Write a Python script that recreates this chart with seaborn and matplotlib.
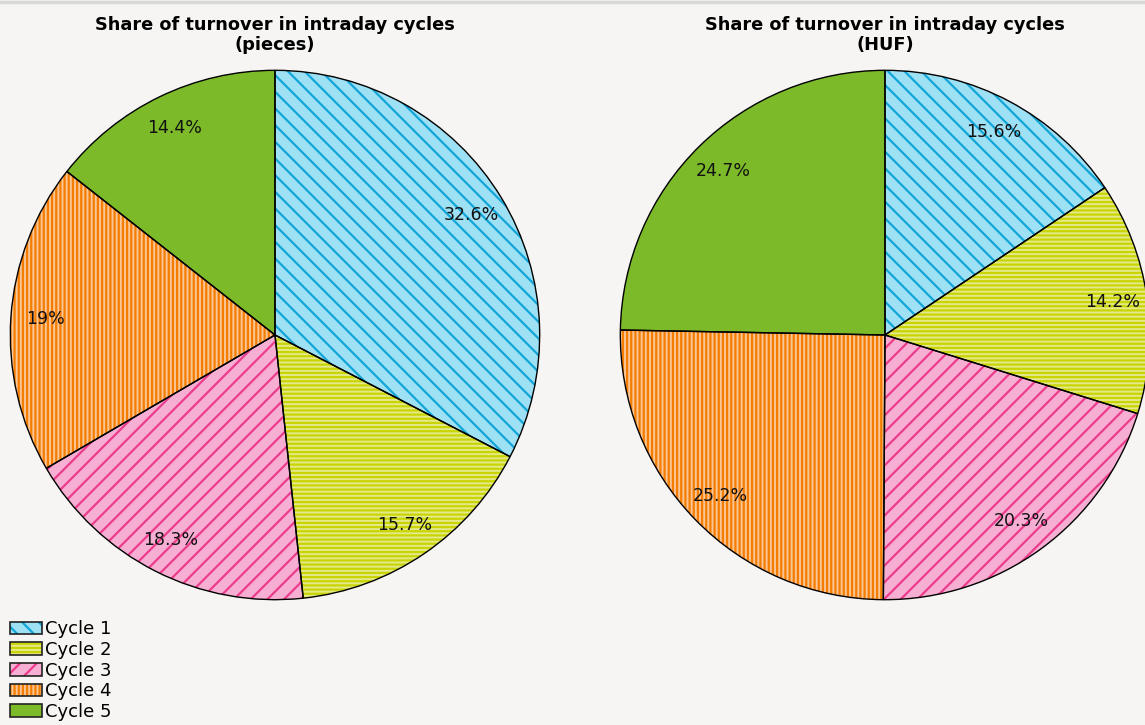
import matplotlib
matplotlib.use('Agg')
import matplotlib.pyplot as plt
from matplotlib.patches import Patch
from matplotlib.lines import Line2D
import seaborn as sns

cycles = ['Cycle 1', 'Cycle 2', 'Cycle 3', 'Cycle 4', 'Cycle 5']
share_pieces = [32.6, 15.7, 18.3, 19, 14.4]
share_huf = [15.6, 14.2, 20.3, 25.2, 24.7]
titles = ['Share of turnover in intraday cycles\n(pieces)',
          'Share of turnover in intraday cycles\n(HUF)']

face_cols = ['#9ee0f4', '#e4ea8c', '#f6aed3', '#fbc695', '#7cba2a']
hatch_cols = ['#12a5d8', '#c9d400', '#ec3c8c', '#f47d00', '#7cba2a']
hatches = ['\\\\', '----', '//', '||||', '']

bg = '#f6f5f3'
sns.set_theme(style='white', rc={'figure.facecolor': bg, 'axes.facecolor': bg,
                                 'hatch.linewidth': 1.6, 'text.color': 'black'})
plt.rcParams['font.family'] = ['DejaVu Sans']

W, H = 1145, 725
fig = plt.figure(figsize=(W / 100, H / 100), dpi=100)


def draw_pie(ax, values):
    # first pass: fill + hatch (hatch takes edge color), second pass: black outline
    wedges, _ = ax.pie(values, colors=face_cols, startangle=90, counterclock=False,
                       wedgeprops=dict(linewidth=0))
    for w, hc, h in zip(wedges, hatch_cols, hatches):
        w.set_edgecolor(hc)
        w.set_hatch(h)
    ax.pie(values, startangle=90, counterclock=False,
           labels=[f'{v:g}%' for v in values], labeldistance=0.87,
           textprops=dict(fontsize=12.5, color='#111111', ha='center', va='center'),
           wedgeprops=dict(fill=False, edgecolor='black', linewidth=1.0))
    ax.set_xlim(-1.005, 1.005)
    ax.set_ylim(-1.005, 1.005)
    ax.set_aspect('equal')
    ax.axis('off')


for cx, vals, title in [(275, share_pieces, titles[0]), (885, share_huf, titles[1])]:
    r = 266
    ax = fig.add_axes([(cx - r) / W, (H - 335 - r) / H, 2 * r / W, 2 * r / H])
    draw_pie(ax, vals)
    fig.text(cx / W, 1 - 35 / H, title, ha='center', va='center', fontsize=12.8,
             fontweight='bold', linespacing=1.1, color='black')

# legend
handles = []
for fc, hc, h in zip(face_cols, hatch_cols, hatches):
    handles.append((Patch(facecolor=fc, edgecolor=hc, hatch=h, linewidth=0),
                    Patch(fill=False, edgecolor='#222222', linewidth=1.2)))
fig.legend(handles, cycles, loc='lower left', bbox_to_anchor=(-0.002, -0.012),
           frameon=False, fontsize=13, labelspacing=0.15, handlelength=1.75,
           handleheight=0.7, handletextpad=0.15, borderaxespad=0.3)

fig.add_artist(Line2D([0, 1], [1 - 1.5 / H, 1 - 1.5 / H], color='#d8d8d8', linewidth=2.5,
                      transform=fig.transFigure))

fig.savefig('out.png', dpi=100, facecolor=bg)
